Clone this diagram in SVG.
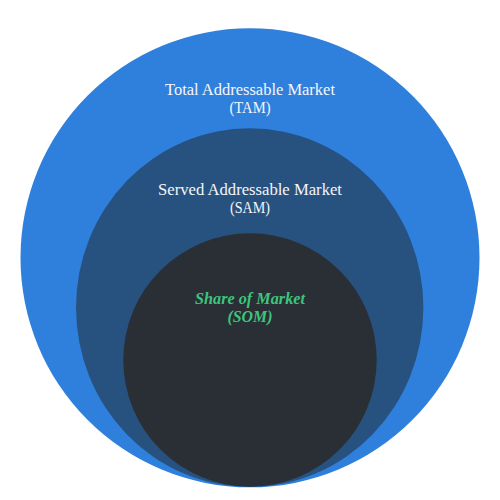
<svg xmlns="http://www.w3.org/2000/svg" width="500" height="500" viewBox="0 0 500 500">
  <style>
    .lbl { font-family: "Liberation Serif", "DejaVu Serif", serif; font-size: 16px; fill: #f4f6fa; text-anchor: middle; }
    .som { font-family: "Liberation Serif", "DejaVu Serif", serif; font-size: 16px; font-style: italic; font-weight: bold; fill: #3ec57c; text-anchor: middle; }
  </style>
  <rect width="500" height="500" fill="#ffffff"/>
  <g id="tam">
    <circle cx="250" cy="257.8" r="229.5" fill="#2f80dd"/>
    <text class="lbl" x="250" y="95" textLength="170" lengthAdjust="spacingAndGlyphs">Total Addressable Market</text>
    <text class="lbl" x="250" y="113" textLength="41" lengthAdjust="spacingAndGlyphs">(TAM)</text>
  </g>
  <g id="sam">
    <ellipse cx="249.7" cy="307.6" rx="173.7" ry="179.3" fill="#27527f"/>
    <text class="lbl" x="250" y="195" textLength="184" lengthAdjust="spacingAndGlyphs">Served Addressable Market</text>
    <text class="lbl" x="250" y="213" textLength="40" lengthAdjust="spacingAndGlyphs">(SAM)</text>
  </g>
  <g id="som">
    <circle cx="250" cy="360" r="126.7" fill="#292f34"/>
    <text class="som" x="250" y="304" textLength="110" lengthAdjust="spacingAndGlyphs">Share of Market</text>
    <text class="som" x="250" y="322" textLength="45" lengthAdjust="spacingAndGlyphs">(SOM)</text>
  </g>
  <g id="connectors"/>
</svg>
